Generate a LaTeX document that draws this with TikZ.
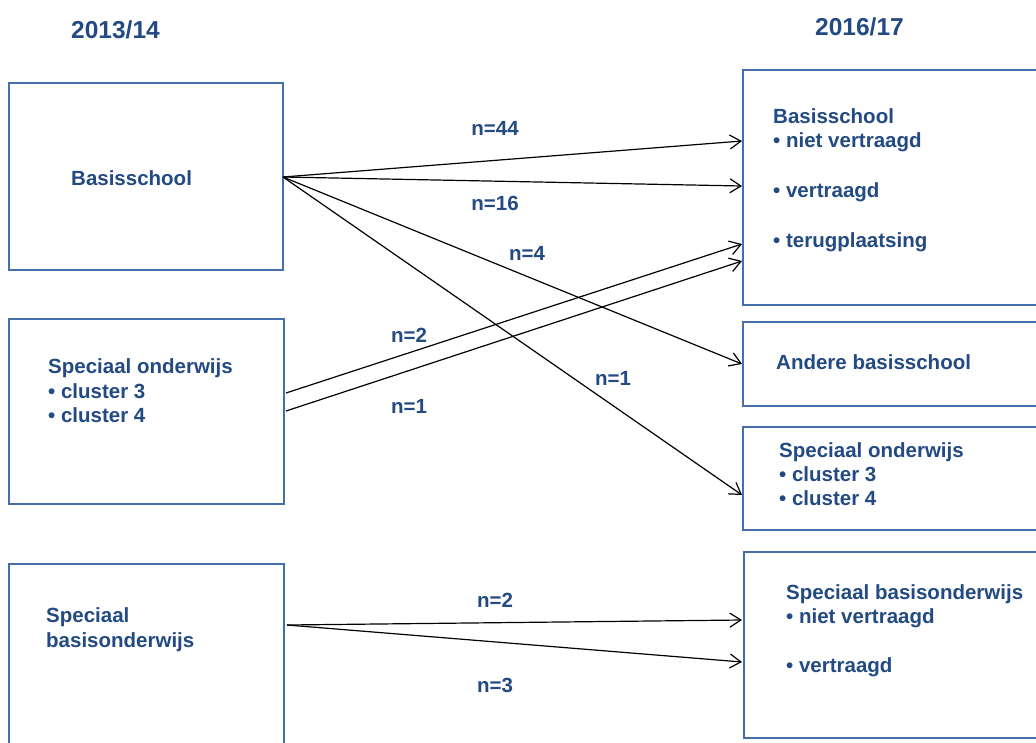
\documentclass[tikz,border=0pt]{standalone}
\usepackage{fontspec}
\setmainfont{Liberation Sans}
\usetikzlibrary{arrows.meta}
\definecolor{txtc}{RGB}{35,74,130}
\definecolor{boxc}{RGB}{70,110,170}
\tikzset{
  box/.style={draw=boxc, line width=1.4pt, rectangle, inner sep=0pt},
  lbl/.style={text=txtc, font=\fontsize{20.5}{24.6}\selectfont\bfseries, inner sep=0pt, anchor=base west},
  nlbl/.style={text=txtc, font=\fontsize{20.5}{24.6}\selectfont\bfseries, inner sep=0pt, anchor=base},
  head/.style={text=txtc, font=\fontsize{24.5}{29}\selectfont\bfseries, inner sep=0pt, anchor=base west},
  flow/.style={line width=1.2pt, -{Straight Barb[length=11pt,width=14pt,line width=1.2pt]}}
}
\begin{document}
\begin{tikzpicture}[x=1pt,y=-1pt]
\useasboundingbox (0,0) rectangle (1036,742);
\clip (0,0) rectangle (1036,742);
\fill[white] (0,0) rectangle (1036,742);

% boxes
\node[box, minimum width=274pt, minimum height=187pt] (L1) at (146,176.5) {};
\node[box, minimum width=275pt, minimum height=185pt] (L2) at (146.5,411.5) {};
\node[box, minimum width=275pt, minimum height=216pt] (L3) at (146.5,672) {};
\node[box, minimum width=317pt, minimum height=235pt] (R1) at (901.5,187.5) {};
\node[box, minimum width=317pt, minimum height=84pt] (R2) at (901.5,364) {};
\node[box, minimum width=317pt, minimum height=103pt] (R3) at (901.5,478.5) {};
\node[box, minimum width=316pt, minimum height=186pt] (R4) at (902,645) {};

% headings
\node[head] (h1) at (71,38) {2013/14};
\node[head] (h2) at (815,35) {2016/17};

% box texts
\node[lbl] (t1) at (71,185) {Basisschool};
\node[lbl] (t2a) at (48,373) {Speciaal onderwijs};
\node[lbl] (t2b) at (48,398) {• cluster 3};
\node[lbl] (t2c) at (48,422) {• cluster 4};
\node[lbl] (t3a) at (46,622) {Speciaal};
\node[lbl] (t3b) at (46,647) {basisonderwijs};

\node[lbl] (r1a) at (773,123) {Basisschool};
\node[lbl] (r1b) at (773,147) {• niet vertraagd};
\node[lbl] (r1c) at (773,197) {• vertraagd};
\node[lbl] (r1d) at (773,247) {• terugplaatsing};
\node[lbl] (r2a) at (776,369) {Andere basisschool};
\node[lbl] (r3a) at (779,457) {Speciaal onderwijs};
\node[lbl] (r3b) at (779,481) {• cluster 3};
\node[lbl] (r3c) at (779,505) {• cluster 4};
\node[lbl] (r4a) at (786,599) {Speciaal basisonderwijs};
\node[lbl] (r4b) at (786,623) {• niet vertraagd};
\node[lbl] (r4c) at (786,672) {• vertraagd};

% connector end points
\coordinate (s1) at (283,177);
\coordinate (s2a) at (286,393);
\coordinate (s2b) at (286,411);
\coordinate (s3) at (287,625);
\coordinate (e1a) at (742,141);
\coordinate (e1b) at (742,186);
\coordinate (e1c) at (742,244);
\coordinate (e1d) at (742,261);
\coordinate (e2) at (742,364);
\coordinate (e3) at (742,495);
\coordinate (e4a) at (742,620);
\coordinate (e4b) at (742,662);

\draw[flow] (s1) -- (e1a);
\draw[flow] (s1) -- (e1b);
\draw[flow] (s1) -- (e2);
\draw[flow] (s1) -- (e3);
\draw[flow] (s2a) -- (e1c);
\draw[flow] (s2b) -- (e1d);
\draw[flow] (s3) -- (e4a);
\draw[flow] (s3) -- (e4b);

% counts
\node[nlbl] (n44) at (495,135) {n=44};
\node[nlbl] (n16) at (495,210) {n=16};
\node[nlbl] (n4) at (527,260) {n=4};
\node[nlbl] (n2a) at (409,342) {n=2};
\node[nlbl] (n1a) at (409,413) {n=1};
\node[nlbl] (n1b) at (613,385) {n=1};
\node[nlbl] (n2b) at (495,607) {n=2};
\node[nlbl] (n3) at (495,692) {n=3};
\end{tikzpicture}
\end{document}
